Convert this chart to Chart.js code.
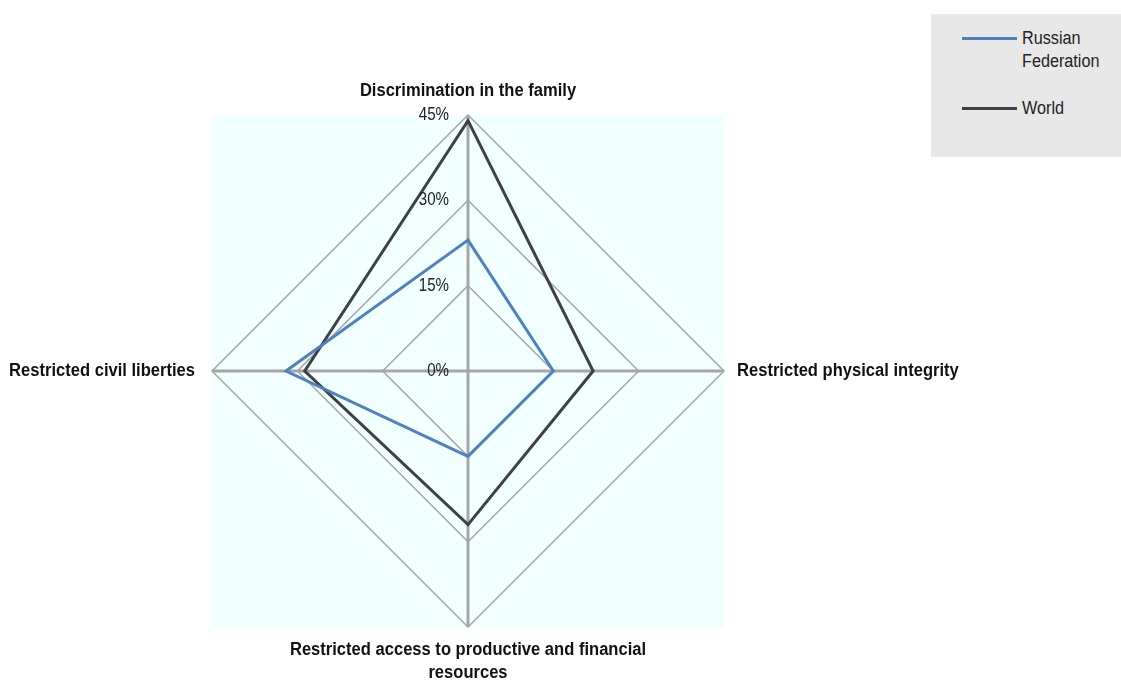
<!DOCTYPE html>
<html>
<head>
<meta charset="utf-8">
<script src="https://cdn.jsdelivr.net/npm/chart.js@4/dist/chart.umd.min.js"></script>
<style>
  body { margin: 0; background: #fff; }
  #wrap { position: relative; width: 1121px; height: 682px; }
  #legend {
    position: absolute; left: 931px; top: 14px; width: 190px; height: 143px;
    background: #e8e8e8;
    font-family: "Liberation Sans", Arial, sans-serif;
    font-size: 18px; color: #222; line-height: 23px;
  }
  .item { position: absolute; left: 31px; }
  .item .swatch { position: absolute; left: 0; top: 10px; width: 55px; height: 3px; }
  .item .txt {
    position: absolute; left: 60px; top: 0; white-space: nowrap;
    transform: scaleX(0.9); transform-origin: 0 0;
  }
</style>
</head>
<body>
<div id="wrap">
  <canvas id="myChart" width="1121" height="682"></canvas>
  <div id="legend"></div>
</div>
<script>
let axis_labels = [
    'Discrimination in the family',
    'Restricted physical integrity',
    ['Restricted access to productive and financial', 'resources'],
    'Restricted civil liberties'
];
let series_names = [['Russian', 'Federation'], ['World']];
let russia_values = [23, 15, 15, 32];
let world_values = [44, 22, 27, 28.7];
let tick_values = [0, 15, 30, 45];

let series_colors = ['#4f81bd', '#404040'];
let font_family = '"Liberation Sans", Arial, sans-serif';

// narrow text: squeeze the glyphs horizontally around the anchor point
function narrowText(c, text, x, y, sx) {
    c.save();
    c.translate(x, y);
    c.scale(sx, 1);
    c.fillText(text, 0, 0);
    c.restore();
}

// cyan square behind the web
let plotBackground = {
    id: 'plotBackground',
    beforeDraw: function (chart) {
        let s = chart.scales.r;
        let c = chart.ctx;
        c.save();
        c.fillStyle = '#f2ffff';
        c.fillRect(s.xCenter - s.drawingArea, s.yCenter - s.drawingArea, s.drawingArea * 2, s.drawingArea * 2);
        c.restore();
    }
};

// tick labels to the left of the vertical axis, category names outside the web
let radarText = {
    id: 'radarText',
    afterDraw: function (chart) {
        let s = chart.scales.r;
        let c = chart.ctx;
        let r = s.drawingArea;
        c.save();
        c.fillStyle = '#222';
        c.font = '18px ' + font_family;
        c.textAlign = 'right';
        c.textBaseline = 'middle';
        tick_values.forEach(function (v) {
            let d = s.getDistanceFromCenterForValue(v);
            narrowText(c, v + '%', s.xCenter - 19, s.yCenter - d, 0.84);
        });

        c.font = 'bold 18px ' + font_family;
        c.fillStyle = '#111';
        let pad = [19, 13, 23, 17];
        axis_labels.forEach(function (lab, i) {
            let p = s.getPointPosition(i, r + pad[i]);
            let lines = Array.isArray(lab) ? lab : [lab];
            if (i === 0) {
                c.textAlign = 'center'; c.textBaseline = 'alphabetic';
            } else if (i === 1) {
                c.textAlign = 'left'; c.textBaseline = 'middle';
            } else if (i === 2) {
                c.textAlign = 'center'; c.textBaseline = 'middle';
            } else {
                c.textAlign = 'right'; c.textBaseline = 'middle';
            }
            lines.forEach(function (t, k) {
                narrowText(c, t, p.x, p.y + k * 23, 0.92);
            });
        });
        c.restore();
    }
};

let myChart = new Chart('myChart', {
    type: 'radar',
    data: {
        labels: axis_labels,
        datasets: [
            {
                label: series_names[0].join(' '),
                data: russia_values,
                borderColor: series_colors[0],
                borderWidth: 3,
                fill: false,
                pointRadius: 0,
                tension: 0
            },
            {
                label: series_names[1].join(' '),
                data: world_values,
                borderColor: series_colors[1],
                borderWidth: 3,
                fill: false,
                pointRadius: 0,
                tension: 0
            }
        ]
    },
    options: {
        responsive: false,
        animation: false,
        layout: {
            padding: { left: 212, right: 397, top: 115, bottom: 55 }
        },
        plugins: {
            legend: { display: false },
            tooltip: { enabled: false }
        },
        scales: {
            r: {
                min: 0,
                max: 45,
                ticks: { stepSize: 15, display: false },
                pointLabels: { display: false },
                grid: { color: '#a6a6a6', lineWidth: 1.5 },
                angleLines: { color: '#a6a6a6', lineWidth: 3 }
            }
        }
    },
    plugins: [plotBackground, radarText]
});

// legend box on the right
let legend = document.getElementById('legend');
let tops = [13, 83];
series_names.forEach(function (name, i) {
    let item = document.createElement('div');
    item.className = 'item';
    item.style.top = tops[i] + 'px';
    let sw = document.createElement('div');
    sw.className = 'swatch';
    sw.style.background = series_colors[i];
    let txt = document.createElement('div');
    txt.className = 'txt';
    txt.innerHTML = name.join('<br>');
    item.appendChild(sw);
    item.appendChild(txt);
    legend.appendChild(item);
});
</script>
</body>
</html>
